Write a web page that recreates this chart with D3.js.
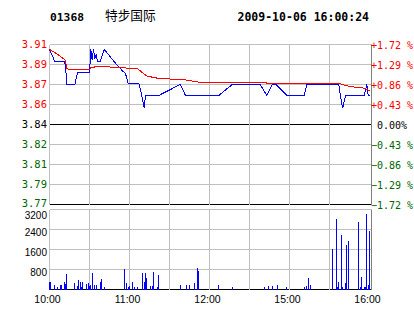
<!DOCTYPE html>
<html>
<head>
<meta charset="utf-8">
<script src="https://cdn.jsdelivr.net/npm/d3@7"></script>
<style>
	html, body { margin: 0; padding: 0; background: #fff; }
	#chart { width: 414px; height: 314px; }
</style>
</head>
<body>
<div id="chart"></div>
<script>
//data
const stockCode = '01368';
const stockName = '特步国际';
const stampText = '2009-10-06 16:00:24';
const prevClose = 3.84;

const pctTicks = [1.72, 1.29, 0.86, 0.43, 0, -0.43, -0.86, -1.29, -1.72];
const priceLabels = ['3.91', '3.89', '3.87', '3.86', '3.84', '3.82', '3.81', '3.79', '3.77'];
const pctLabels = ['+1.72 %', '+1.29 %', '+0.86 %', '+0.43 %', ' 0.00%', '−0.43 %', '−0.86 %', '−1.29 %', '−1.72 %'];
const volTicks = [3200, 2400, 1600, 800];
const timeTicks = [0, 60, 120, 180, 240];
const timeLabels = ['10:00', '11:00', '12:00', '15:00', '16:00'];

// price line (minute index, price)
const priceTime = [0, 4, 11, 12, 13, 19, 21, 30, 31, 32, 33, 34, 35, 36, 38, 41, 50, 55, 57, 59, 67, 69, 71, 72, 82, 98, 102, 127, 137, 158, 163, 167, 170, 178, 191, 193, 217, 219, 220, 222, 236, 238, 239, 240];
const priceValue = [3.902, 3.892, 3.892, 3.889, 3.873, 3.873, 3.883, 3.883, 3.902, 3.893, 3.902, 3.894, 3.898, 3.892, 3.892, 3.902, 3.890, 3.884, 3.882, 3.874, 3.874, 3.865, 3.854, 3.864, 3.864, 3.873, 3.864, 3.864, 3.873, 3.873, 3.864, 3.873, 3.873, 3.864, 3.864, 3.873, 3.873, 3.858, 3.854, 3.864, 3.864, 3.873, 3.864, 3.864];

// average price line
const avgTime = [0, 6, 12, 13, 18, 30, 31, 37, 53, 66, 73, 82, 101, 112, 162, 163, 217, 223, 228, 236, 240];
const avgValue = [3.902, 3.898, 3.893, 3.886, 3.885, 3.885, 3.887, 3.888, 3.887, 3.886, 3.880, 3.878, 3.877, 3.875, 3.875, 3.874, 3.874, 3.872, 3.871, 3.870, 3.868];

// volume bars
const volTime = [0, 1, 4, 6, 8, 9, 11, 12, 13, 19, 21, 22, 23, 24, 25, 28, 29, 30, 31, 32, 34, 35, 38, 39, 41, 56, 58, 59, 60, 62, 64, 66, 70, 71, 72, 73, 76, 77, 78, 81, 82, 98, 103, 105, 109, 111, 112, 127, 137, 161, 164, 167, 171, 178, 191, 193, 194, 196, 212, 215, 216, 217, 219, 220, 222, 223, 224, 232, 233, 234, 236, 237, 238, 239, 240];
const volValue = [320, 320, 200, 90, 200, 200, 320, 230, 640, 260, 140, 400, 320, 100, 320, 240, 280, 140, 200, 680, 200, 200, 320, 440, 90, 840, 260, 90, 140, 320, 90, 90, 680, 320, 680, 480, 140, 140, 720, 90, 600, 200, 200, 200, 280, 880, 760, 200, 120, 120, 160, 160, 200, 120, 120, 160, 480, 200, 1640, 2840, 120, 320, 2200, 120, 280, 1800, 1960, 2720, 120, 520, 120, 120, 3040, 200, 2360];

render();

function render() {
	const left = 49.5, right = 369.5, frameRight = 371.5;
	const pTop = 44.5, pBottom = 204.5;
	const vTop = 209.5, vBottom = 289.5;
	const red = '#ff0000', green = '#006600', blue = '#0000ff', grid = '#c0c0c0';
	const mono = '"DejaVu Sans Mono", "Liberation Mono", monospace';
	const sans = '"Liberation Sans", Arial, sans-serif';

	const x = d3.scaleLinear().domain([0, 240]).range([left, right]);
	const yPct = d3.scaleLinear().domain([-1.72, 1.72]).range([pBottom, pTop]);
	const yPrice = d3
		.scaleLinear()
		.domain([prevClose * (1 - 0.0172), prevClose * (1 + 0.0172)])
		.range([pBottom, pTop]);
	const yVol = d3.scaleLinear().domain([0, 3200]).range([vBottom, vTop]);

	const svg = d3
		.select('#chart')
		.append('svg')
		.attr('width', 414)
		.attr('height', 314)
		.style('font-family', sans);

	//header
	svg.append('text')
		.attr('x', 50)
		.attr('y', 20.5)
		.style('font-family', mono)
		.style('font-weight', 'bold')
		.style('font-size', '11.3px')
		.text(stockCode);
	svg.append('text')
		.attr('x', 105)
		.attr('y', 20)
		.style('font-family', '"Noto Sans CJK SC", sans-serif')
		.style('font-size', '12.7px')
		.text(stockName);
	svg.append('text')
		.attr('x', 237.5)
		.attr('y', 20.5)
		.style('font-family', mono)
		.style('font-weight', 'bold')
		.style('font-size', '11.5px')
		.text(stampText);

	const gridG = svg.append('g').style('shape-rendering', 'crispEdges');

	//price panel grid
	gridG.selectAll('.hgrid')
		.data(pctTicks)
		.enter()
		.append('line')
		.attr('x1', left)
		.attr('x2', frameRight)
		.attr('y1', (d) => yPct(d))
		.attr('y2', (d) => yPct(d))
		.style('stroke', (d, i) => (d === 0 || i === pctTicks.length - 1 ? '#000' : grid));

	gridG.selectAll('.vgrid')
		.data(d3.range(0, 240, 30))
		.enter()
		.append('line')
		.attr('x1', (d) => x(d))
		.attr('x2', (d) => x(d))
		.attr('y1', pTop)
		.attr('y2', pBottom)
		.style('stroke', grid);
	gridG.append('line')
		.attr('x1', frameRight).attr('x2', frameRight)
		.attr('y1', pTop).attr('y2', pBottom)
		.style('stroke', '#808080');

	//volume panel grid
	gridG.selectAll('.vhgrid')
		.data([3200, 2400, 1600, 800, 0])
		.enter()
		.append('line')
		.attr('x1', left)
		.attr('x2', frameRight)
		.attr('y1', (d) => yVol(d))
		.attr('y2', (d) => yVol(d))
		.style('stroke', (d) => (d === 0 ? '#000' : grid));
	gridG.selectAll('.vvgrid')
		.data(d3.range(0, 240, 30))
		.enter()
		.append('line')
		.attr('x1', (d) => x(d))
		.attr('x2', (d) => x(d))
		.attr('y1', vTop)
		.attr('y2', vBottom)
		.style('stroke', grid);
	gridG.append('line')
		.attr('x1', frameRight).attr('x2', frameRight)
		.attr('y1', vTop).attr('y2', vBottom)
		.style('stroke', '#808080');

	//labels
	const labelColor = (d) => (d > 0 ? red : d < 0 ? green : '#000');

	svg.selectAll('.price-label')
		.data(pctTicks)
		.enter()
		.append('text')
		.attr('x', 47)
		.attr('y', (d) => Math.min(yPct(d), 203))
		.attr('dy', '0.36em')
		.style('text-anchor', 'end')
		.style('font-family', mono)
		.style('font-size', '10.5px')
		.style('fill', labelColor)
		.text((d, i) => priceLabels[i]);

	svg.selectAll('.pct-label')
		.data(pctTicks)
		.enter()
		.append('text')
		.attr('x', 371)
		.attr('y', (d) => yPct(d) + 0.5)
		.attr('dy', '0.36em')
		.style('font-family', mono)
		.style('font-size', '10px')
		.style('white-space', 'pre')
		.attr('xml:space', 'preserve')
		.style('fill', labelColor)
		.text((d, i) => pctLabels[i]);

	svg.selectAll('.vol-label')
		.data(volTicks)
		.enter()
		.append('text')
		.attr('x', 47)
		.attr('y', (d) => Math.max(yVol(d) + 2.5, 215.5))
		.attr('dy', '0.36em')
		.style('text-anchor', 'end')
		.style('font-size', '10px')
		.text((d) => d);

	svg.selectAll('.time-label')
		.data(timeTicks)
		.enter()
		.append('text')
		.attr('x', (d) => x(d) - 2)
		.attr('y', 303)
		.style('text-anchor', 'middle')
		.style('font-size', '10.5px')
		.text((d, i) => timeLabels[i]);

	//volume bars
	svg.append('g')
		.style('shape-rendering', 'crispEdges')
		.selectAll('rect')
		.data(volTime.map((t, i) => ({ t: t, v: volValue[i] })))
		.enter()
		.append('rect')
		.attr('x', (d) => Math.floor(x(d.t)))
		.attr('width', 1)
		.attr('y', (d) => yVol(d.v))
		.attr('height', (d) => vBottom - yVol(d.v))
		.style('fill', blue);

	//lines
	const line = d3
		.line()
		.x((d) => x(d[0]))
		.y((d) => yPrice(d[1]));

	svg.append('path')
		.attr('d', line(priceTime.map((t, i) => [t, priceValue[i]])))
		.style('fill', 'none')
		.style('stroke', blue)
		.style('stroke-width', 1)
		.style('shape-rendering', 'crispEdges');

	svg.append('path')
		.attr('d', line(avgTime.map((t, i) => [t, avgValue[i]])))
		.style('fill', 'none')
		.style('stroke', red)
		.style('stroke-width', 1)
		.style('shape-rendering', 'crispEdges');
}
</script>
</body>
</html>
